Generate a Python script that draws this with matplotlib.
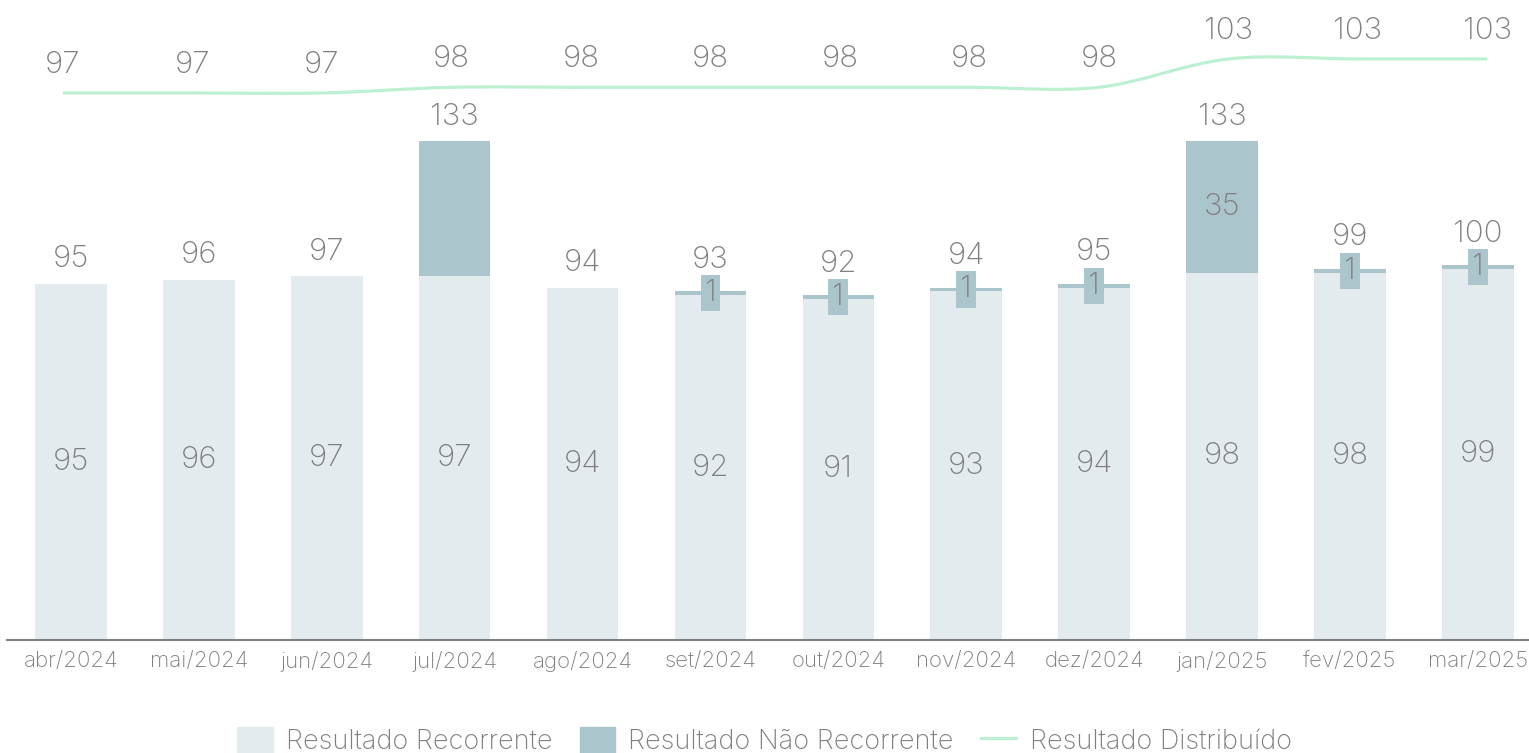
import numpy as np
import matplotlib.pyplot as plt
from matplotlib.path import Path
from matplotlib.patches import PathPatch, Patch
from matplotlib.lines import Line2D

meses = ["abr/2024", "mai/2024", "jun/2024", "jul/2024", "ago/2024", "set/2024",
         "out/2024", "nov/2024", "dez/2024", "jan/2025", "fev/2025", "mar/2025"]
recorrente = [95, 96, 97, 97, 94, 92, 91, 93, 94, 98, 98, 99]
nao_recorrente = [0, 0, 0, 36, 0, 1, 1, 1, 1, 35, 1, 1]
nao_rec_labels = [None, None, None, None, None, "1", "1", "1", "1", "35", "1", "1"]
totais = [95, 96, 97, 133, 94, 93, 92, 94, 95, 133, 99, 100]
distribuido = [97, 97, 97, 98, 98, 98, 98, 98, 98, 103, 103, 103]

C_REC = "#e3ebef"
C_NREC = "#aac5cb"
C_LINE = "#bdf0d3"
C_TXT = "#808080"
FONT = ["Inter", "DejaVu Sans"]
FS = 22.5

plt.rcParams["font.family"] = FONT

fig = plt.figure(figsize=(15.29, 7.53), dpi=100)
ax = fig.add_axes([7 / 1529, 113 / 753, 1 - 7 / 1529, 640 / 753])
x = np.arange(len(meses))
w = 0.56

ax.bar(x, recorrente, w, color=C_REC, zorder=2)
ax.bar(x, nao_recorrente, w, bottom=recorrente, color=C_NREC, zorder=3)
ax.set_xlim(-0.5, 11.4)
ax.set_ylim(0, 170.7)

for i in range(len(x)):
    ax.text(x[i], recorrente[i] / 2, str(recorrente[i]), ha="center", va="center",
            fontsize=FS, color=C_TXT, fontweight="light", zorder=5)
    pequeno = 0 < nao_recorrente[i] < 5
    off = 8.4 if pequeno else 6.6
    ax.text(x[i], totais[i] + off, str(totais[i]), ha="center", va="center",
            fontsize=FS, color=C_TXT, fontweight="light", zorder=5)
    if nao_rec_labels[i] is not None:
        yc = recorrente[i] + nao_recorrente[i] / 2
        if pequeno:
            ax.text(x[i], yc, nao_rec_labels[i], ha="center", va="center",
                    fontsize=FS, color=C_TXT, fontweight="light", zorder=5,
                    bbox=dict(boxstyle="square,pad=0.13", fc=C_NREC, ec="none"))
        else:
            ax.text(x[i], yc, nao_rec_labels[i], ha="center", va="center",
                    fontsize=FS, color=C_TXT, fontweight="light", zorder=5)

for s in ["top", "right", "left"]:
    ax.spines[s].set_visible(False)
ax.spines["bottom"].set_color(C_TXT)
ax.spines["bottom"].set_linewidth(1.5)
ax.set_yticks([])
ax.set_xticks(x)
ax.set_xticklabels(meses, fontsize=16, color=C_TXT, fontweight="light")
ax.tick_params(axis="x", length=0, pad=8)

# linha suavizada do resultado distribuido
ax2 = ax.twinx()
ax2.set_ylim(0.5, 113.4)
ax2.set_yticks([])
for s in ax2.spines.values():
    s.set_visible(False)

lx = x * 1.0125 - 0.0625
pts = np.column_stack([lx, distribuido]).astype(float)
verts = [tuple(pts[0])]
codes = [Path.MOVETO]
t = 0.5
for i in range(len(pts) - 1):
    p0 = pts[max(i - 1, 0)]
    p1 = pts[i]
    p2 = pts[i + 1]
    p3 = pts[min(i + 2, len(pts) - 1)]
    c1 = p1 + (p2 - p0) * t / 3
    c2 = p2 - (p3 - p1) * t / 3
    verts += [tuple(c1), tuple(c2), tuple(p2)]
    codes += [Path.CURVE4] * 3
ax2.add_patch(PathPatch(Path(verts, codes), fc="none", ec=C_LINE, lw=2.3, zorder=4))

for i in range(len(x)):
    ax2.text(lx[i], distribuido[i] + 5.0, str(distribuido[i]), ha="center", va="center",
             fontsize=FS, color=C_TXT, fontweight="light")

handles = [Patch(color=C_REC, label="Resultado Recorrente"),
           Patch(color=C_NREC, label="Resultado Não Recorrente"),
           Line2D([0], [0], color=C_LINE, lw=2.3, label="Resultado Distribuído")]
fig.legend(handles=handles, loc="center", bbox_to_anchor=(0.5, 0.016), ncol=3,
           frameon=False, labelcolor=C_TXT, handlelength=1.3,
           handleheight=1.1, columnspacing=1.0, handletextpad=0.5,
           prop={"weight": "light", "size": 19.5})

fig.savefig("out.png", dpi=100)
